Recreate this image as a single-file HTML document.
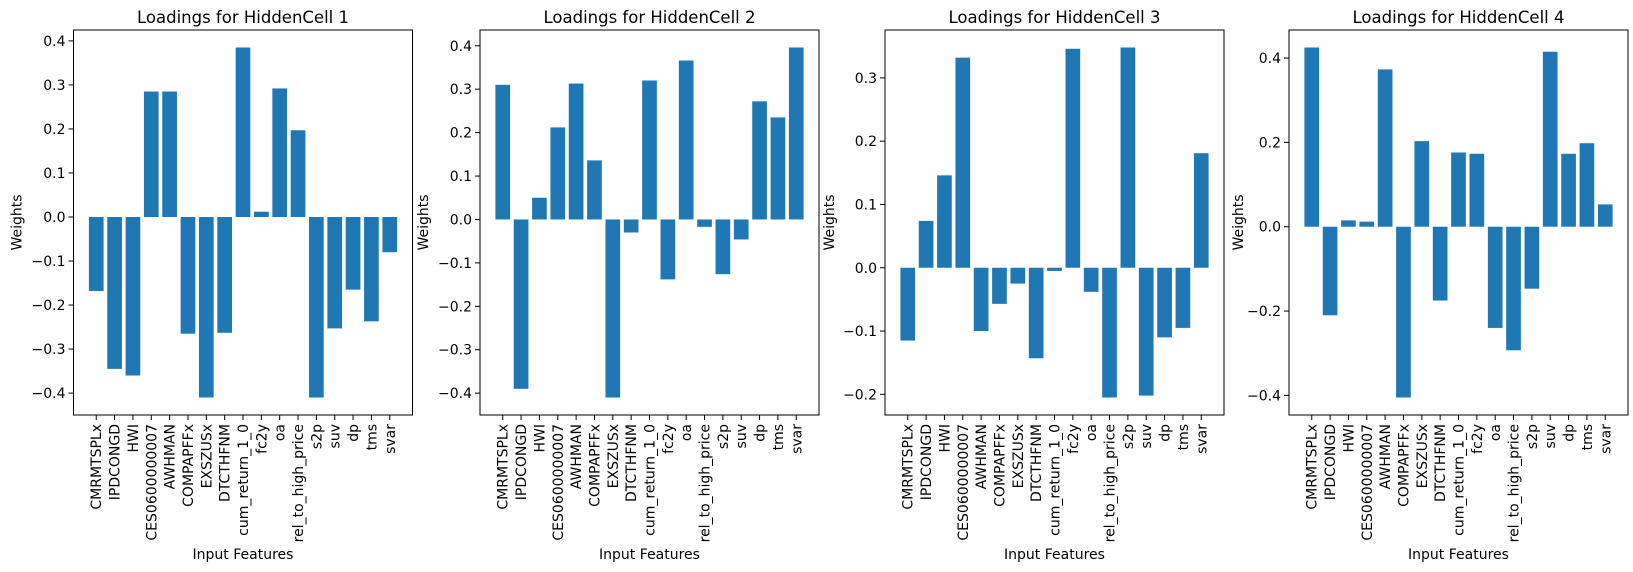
<!DOCTYPE html>
<html><head><meta charset="utf-8"><style>
html,body{margin:0;padding:0;background:#fff;}
svg{display:block;font-family:"DejaVu Sans","Liberation Sans",sans-serif;}
</style></head><body>
<svg id="chart" width="1633" height="572" viewBox="0 0 1633 572" xmlns="http://www.w3.org/2000/svg"></svg>
<script>
const features = ["CMRMTSPLx","IPDCONGD","HWI","CES0600000007","AWHMAN","COMPAPFFx","EXSZUSx","DTCTHFNM","cum_return_1_0","fc2y","oa","rel_to_high_price","s2p","suv","dp","tms","svar"];
const cell1 = [-0.168,-0.345,-0.36,0.285,0.285,-0.265,-0.41,-0.263,0.385,0.012,0.292,0.197,-0.41,-0.253,-0.165,-0.237,-0.08];
const cell2 = [0.31,-0.39,0.05,0.212,0.313,0.136,-0.41,-0.03,0.32,-0.138,0.366,-0.017,-0.126,-0.046,0.272,0.235,0.396];
const cell3 = [-0.115,0.074,0.146,0.332,-0.1,-0.057,-0.025,-0.143,-0.005,0.346,-0.038,-0.205,0.348,-0.202,-0.11,-0.095,0.181];
const cell4 = [0.425,-0.21,0.015,0.012,0.373,-0.405,0.203,-0.175,0.176,0.173,-0.24,-0.293,-0.147,0.415,0.173,0.198,0.053];
const ticks1 = [-0.4,-0.3,-0.2,-0.1,0.0,0.1,0.2,0.3,0.4];
const ticks2 = [-0.4,-0.3,-0.2,-0.1,0.0,0.1,0.2,0.3,0.4];
const ticks3 = [-0.2,-0.1,0.0,0.1,0.2,0.3];
const ticks4 = [-0.4,-0.2,0.0,0.2,0.4];
const titles = ["Loadings for HiddenCell 1","Loadings for HiddenCell 2","Loadings for HiddenCell 3","Loadings for HiddenCell 4"];

const NS="http://www.w3.org/2000/svg";
const svg=document.getElementById('chart');
function mk(tag,attrs,parent){const e=document.createElementNS(NS,tag);for(const k in attrs)e.setAttribute(k,attrs[k]);(parent||svg).appendChild(e);return e;}
const lefts=[73.5,480,885,1289], W=339, TOP=30, BOT=415;
const ylabOff=[57,57,56,51];
const series=[cell1,cell2,cell3,cell4], tickSets=[ticks1,ticks2,ticks3,ticks4];
const fmt=v=>{const s=Math.abs(v).toFixed(1);return (v<-1e-9?"\u2212":"")+s;};

series.forEach((vals,p)=>{
  const L=lefts[p], R=L+W;
  const g=mk('g',{});
  
  
  const n=features.length;
  const xmin=-0.4-0.05*(n-1+0.8), xmax=n-1+0.4+0.05*(n-1+0.8);
  const xs=v=>L+(v-xmin)/(xmax-xmin)*W;
  const mn=Math.min(0,...vals), mx=Math.max(0,...vals), sp=mx-mn;
  const ymin=mn-0.05*sp, ymax=mx+0.05*sp;
  const ys=v=>BOT-(v-ymin)/(ymax-ymin)*(BOT-TOP);
  vals.forEach((v,i)=>{
    const r=mk('rect',{x:xs(i-0.4),y:Math.min(ys(v),ys(0)),width:xs(0.8)-xs(0),height:Math.abs(ys(v)-ys(0)),fill:'#1f77b4'},g);
    
    
  });
  const frame=mk('rect',{x:L,y:TOP,width:W,height:BOT-TOP,fill:'none',stroke:'#000','stroke-width':1},g);
  
  
  tickSets[p].forEach(t=>{
    const y=ys(t);
    mk('line',{x1:L-5,x2:L,y1:y,y2:y,stroke:'#000','stroke-width':1},g);
    const tx=mk('text',{x:L-8,y:y+5,'text-anchor':'end','font-size':14,fill:'#000'},g);
    tx.textContent=fmt(t);
    
    
  });
  features.forEach((f,i)=>{
    const x=xs(i);
    mk('line',{x1:x,x2:x,y1:BOT,y2:BOT+5,stroke:'#000','stroke-width':1},g);
    const tx=mk('text',{x:0,y:0,'text-anchor':'end','font-size':14,fill:'#000',transform:`translate(${x+5},${BOT+9}) rotate(-90)`},g);
    tx.textContent=f;
    
    
  });
  const tt=mk('text',{x:(L+R)/2,y:23,'text-anchor':'middle','font-size':16.5,fill:'#000'},g);
  tt.textContent=titles[p];
  
  
  const yl=mk('text',{x:0,y:0,'text-anchor':'middle','font-size':14,fill:'#000',transform:`translate(${L-ylabOff[p]+5},${(TOP+BOT)/2}) rotate(-90)`},g);
  yl.textContent='Weights';
  
  
  const xl=mk('text',{x:(L+R)/2,y:559,'text-anchor':'middle','font-size':14,fill:'#000'},g);
  xl.textContent='Input Features';
  
  
});
</script>
</body></html>
